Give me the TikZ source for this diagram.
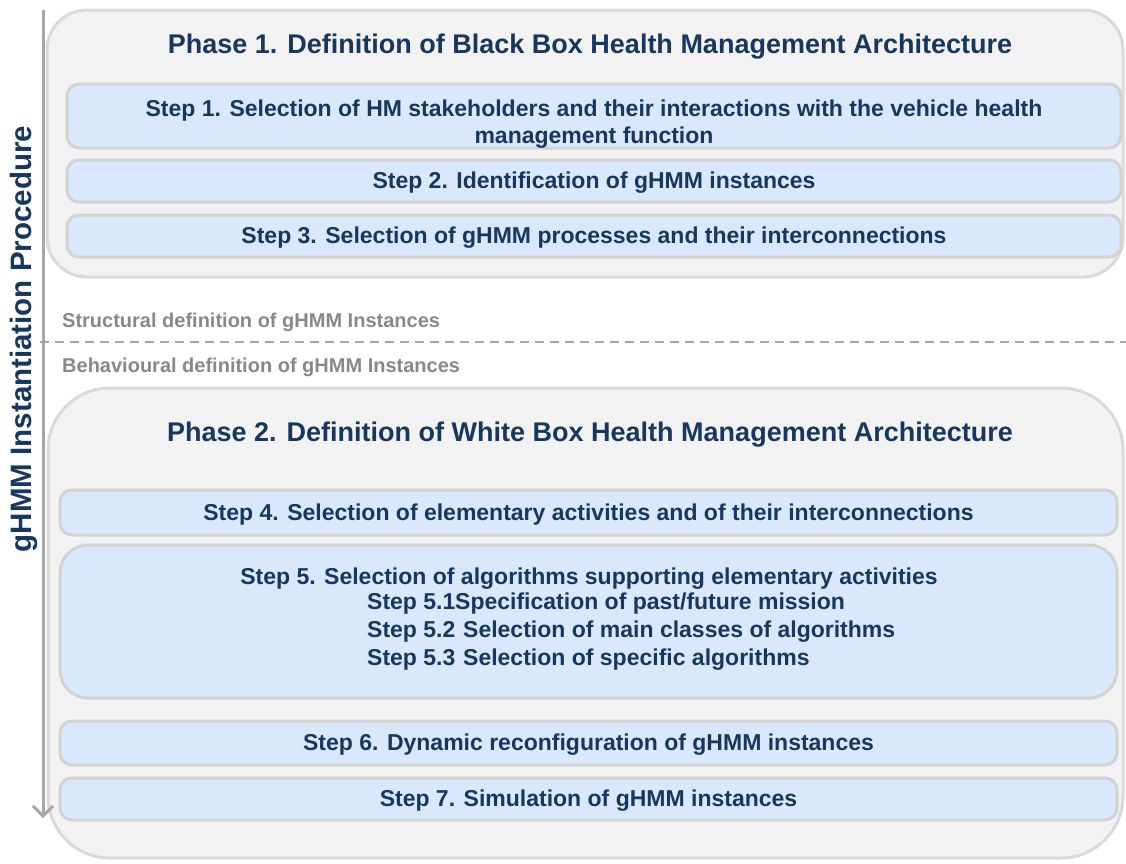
\documentclass[tikz,border=0pt]{standalone}
\usepackage{fontspec}
\setmainfont{Liberation Sans}
\usetikzlibrary{arrows.meta}
\definecolor{outerfill}{HTML}{F2F2F2}
\definecolor{outerline}{HTML}{D9D9D9}
\definecolor{stepfill}{HTML}{D9E8FC}
\definecolor{stepline}{HTML}{D2D2D2}
\definecolor{txtblue}{HTML}{17375E}
\definecolor{txtgray}{HTML}{888888}
\definecolor{arrowgray}{HTML}{A6A6A6}
\tikzset{
  phasebox/.style={draw=outerline, fill=outerfill, line width=3pt, inner sep=0pt},
  stepbox/.style={draw=stepline, fill=stepfill, line width=3pt, rounded corners=12pt, inner sep=0pt},
  titletext/.style={text=txtblue, font=\fontsize{27}{31}\selectfont\bfseries, inner sep=0pt},
  steptext/.style={text=txtblue, font=\fontsize{23}{27.5}\selectfont\bfseries, inner sep=0pt, align=center},
  graytext/.style={text=txtgray, font=\fontsize{20}{24}\selectfont\bfseries, inner sep=0pt, anchor=west},
}
\begin{document}
\begin{tikzpicture}[x=1pt,y=-1pt]
\useasboundingbox (0,0) rectangle (1126,863);
% Phase 1
\node[phasebox, rounded corners=40pt, minimum width=1076pt, minimum height=267pt] (p1) at (585,143.5) {};
\node[titletext] (p1t) at (590,47) {Phase 1. Definition of Black Box Health Management Architecture};
\node[stepbox, minimum width=1054pt, minimum height=64pt] (s1) at (594,116) {};
\node[steptext] (s1t) at (594,124) {Step 1. Selection of HM stakeholders and their interactions with the vehicle health\\management function};
\node[stepbox, minimum width=1054pt, minimum height=42pt] (s2) at (594,181) {};
\node[steptext] (s2t) at (594,183) {Step 2. Identification of gHMM instances};
\node[stepbox, minimum width=1054pt, minimum height=42pt] (s3) at (594,236) {};
\node[steptext] (s3t) at (594,238) {Step 3. Selection of gHMM processes and their interconnections};
% labels and separator
\node[graytext] (struct) at (62,322) {Structural definition of gHMM Instances};
\node[graytext] (behav) at (62,367) {Behavioural definition of gHMM Instances};
\coordinate (dl) at (40,342);
\coordinate (dr) at (1126,342);
\draw[arrowgray, line width=2pt, dash pattern=on 9pt off 6pt] (dl) -- (dr);
% Phase 2
\node[phasebox, rounded corners=62pt, minimum width=1075pt, minimum height=470pt] (p2) at (585.5,623) {};
\node[titletext] (p2t) at (590,435) {Phase 2. Definition of White Box Health Management Architecture};
\node[stepbox, minimum width=1057pt, minimum height=45pt] (s4) at (588.5,512.5) {};
\node[steptext] (s4t) at (588.5,515) {Step 4. Selection of elementary activities and of their interconnections};
\node[stepbox, rounded corners=28pt, minimum width=1057pt, minimum height=153pt] (s5) at (588.5,621.5) {};
\node[steptext] (s5t) at (589,579) {Step 5. Selection of algorithms supporting elementary activities};
\node[steptext, anchor=north west, align=left, font=\fontsize{23}{28}\selectfont\bfseries] (s5s) at (367,593) {%
\makebox[88pt][l]{Step 5.1}Specification of past/future mission\\
\makebox[96pt][l]{Step 5.2}Selection of main classes of algorithms\\
\makebox[96pt][l]{Step 5.3}Selection of specific algorithms};
\node[stepbox, minimum width=1057pt, minimum height=44pt] (s6) at (588.5,743) {};
\node[steptext] (s6t) at (588.5,745) {Step 6. Dynamic reconfiguration of gHMM instances};
\node[stepbox, minimum width=1057pt, minimum height=42pt] (s7) at (588.5,799) {};
\node[steptext] (s7t) at (588.5,801) {Step 7. Simulation of gHMM instances};
% procedure arrow
\coordinate (at) at (43,10);
\coordinate (ab) at (43,818);
\draw[arrowgray, line width=3pt, -{Straight Barb[length=10pt,width=20pt,line width=3pt]}] (at) -- (ab);
\node[titletext, rotate=90, font=\fontsize{29.5}{33}\selectfont\bfseries] (proc) at (24,339) {gHMM Instantiation Procedure};
\end{tikzpicture}
\end{document}
